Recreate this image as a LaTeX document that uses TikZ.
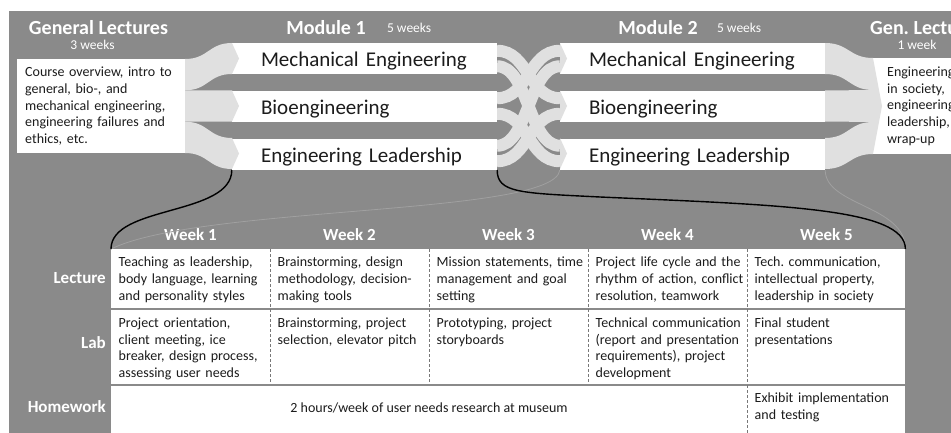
\documentclass[tikz,border=0pt]{standalone}
\usepackage{fontspec}
\setmainfont{Carlito}
\usetikzlibrary{positioning}
\frenchspacing

\definecolor{bggray}{RGB}{138,138,138}
\definecolor{flowgray}{RGB}{224,224,224}
\definecolor{inkgray}{RGB}{28,28,28}
\definecolor{rulegray}{RGB}{120,120,120}
\definecolor{faintgray}{RGB}{160,160,160}

% ribbon from span (#2,#3) at x=#1 to span (#5,#6) at x=#4
\newcommand{\ribbon}[6]{%
  \fill[flowgray] (#1,#2) .. controls ({(#1+#4)/2},#2) and ({(#1+#4)/2},#5) .. (#4,#5)
    -- (#4,#6) .. controls ({(#1+#4)/2},#6) and ({(#1+#4)/2},#3) .. (#1,#3) -- cycle;}
% one strand between the modules
\newcommand{\strand}[2]{%
  \draw[flowgray,line width=12pt] (497,#1) .. controls (528.5,#1) and (528.5,#2) .. (560,#2);}
% arrow notch cut into the left end of a white bar
\newcommand{\notch}[4]{\fill[flowgray] (#1,#2) -- ({#1+#4},{(#2+#3)/2}) -- (#1,#3) -- cycle;}

\begin{document}
\begin{tikzpicture}[x=1pt,y=-1pt,inner sep=0pt,
    head/.style={text=white,font=\fontsize{20}{24}\selectfont\bfseries},
    weeks/.style={text=white,font=\fontsize{13.5}{16}\selectfont},
    weekhd/.style={text=white,font=\fontsize{17}{20}\selectfont\bfseries},
    track/.style={fill=white,minimum height=31pt,text width=207pt,inner xsep=29pt,
      align=left,text height=20pt,text depth=4pt,text=inkgray,
      font=\fontsize{21}{25}\selectfont},
    box/.style={fill=white,anchor=north west,align=left,text=inkgray,
      font=\fontsize{14}{16.7}\selectfont},
    row/.style={fill=white,minimum width=794pt},
    rowlab/.style={text=white,anchor=east,font=\fontsize{17}{20}\selectfont\bfseries},
    cell/.style={anchor=north west,text width=152pt,align=left,text=inkgray,
      font=\fontsize{14}{16.7}\selectfont,execute at begin node=\strut},
    sep/.style={rulegray,line width=0.8pt,dash pattern=on 3pt off 2pt}]

  % page and backdrop
  \useasboundingbox (0,0) rectangle (951,433);
  \clip (0,0) rectangle (951,433);
  \fill[white] (0,0) rectangle (951,433);
  \fill[bggray] (9,11) rectangle (951,433);

  % general lectures fan out into the three tracks
  \ribbon{185}{59}{90.3}{232}{43}{74}
  \ribbon{185}{90.3}{121.7}{232}{90.5}{121.5}
  \ribbon{185}{121.7}{153}{232}{138}{169}

  % students may switch track between the modules
  \strand{50.75}{98.25}
  \strand{66.25}{145.75}
  \strand{98.25}{50.75}
  \strand{113.75}{161.25}
  \strand{145.75}{66.25}
  \strand{161.25}{113.75}

  % tracks join again for the last week
  \ribbon{825}{43}{74}{873}{58}{90}
  \ribbon{825}{90.5}{121.5}{873}{90}{122}
  \ribbon{825}{138}{169}{873}{122}{154}

  % headings
  \node[head] (genl) at (98.5,28) {General Lectures};
  \node[weeks,below=5pt of genl,xshift=-6pt] (genlw) {3 weeks};
  \node[head] (mod1) at (326,28) {Module 1};
  \node[weeks,right=21pt of mod1] (mod1w) {5 weeks};
  \node[head] (mod2) at (658,28) {Module 2};
  \node[weeks,right=19pt of mod2] (mod2w) {5 weeks};
  \node[head,anchor=west] (genr) at (870,28) {Gen. Lectures};
  \node[weeks] (genrw) at (917,45) {1 week};

  % the tracks
  \node[track] (m1me) at (364.5,58.5) {Mechanical Engineering};
  \node[track,below=16.5pt of m1me] (m1bio) {Bioengineering};
  \node[track,below=16.5pt of m1bio] (m1el) {Engineering Leadership};
  \node[track] (m2me) at (692.5,58.5) {Mechanical Engineering};
  \node[track,below=16.5pt of m2me] (m2bio) {Bioengineering};
  \node[track,below=16.5pt of m2bio] (m2el) {Engineering Leadership};
  \foreach \y in {43,90.5,138}{
    \notch{232}{\y}{\y+31}{7}
    \notch{560}{\y}{\y+31}{7}}

  \node[box,text width=152pt,inner xsep=8pt,minimum height=94pt] (lbox) at (17,59)
    {Course overview, intro to\\general, bio-, and\\mechanical engineering,\\engineering failures and\\ethics, etc.};
  \node[box,text width=100pt,inner xsep=14pt,minimum height=96pt] (rbox) at (873,58)
    {Engineering\\in society,\\engineering\\leadership,\\wrap-up};
  \notch{873}{58}{154}{9}

  % weekly plan of the leadership track
  \node[row,minimum height=58.5pt,anchor=north west] (lecrow) at (111,249) {};
  \node[row,minimum height=73.5pt,below=2pt of lecrow] (labrow) {};
  \node[row,minimum height=49pt,below=2pt of labrow] (hwrow) {};
  \node[rowlab,left=5pt of lecrow] (leclab) {Lecture};
  \node[rowlab,left=5pt of labrow,yshift=4pt] (lablab) {Lab};
  \node[rowlab,left=5pt of hwrow,yshift=4pt] (hwlab) {Homework};

  \foreach \i in {1,...,5}
    \node[weekhd] (wk\i) at ({111+159*(\i-0.5)},235) {Week \i};
  \foreach \x in {270,429,588,747}
    \draw[sep] (\x,249) -- (\x,383);
  \draw[sep] (747,385) -- (747,433);

  \node[cell] (lec1) at (118.5,255) {Teaching as leadership,\\body language, learning\\and personality styles};
  \node[cell] (lec2) at (277.5,255) {Brainstorming, design\\methodology, decision-\\making tools};
  \node[cell] (lec3) at (436.5,255) {Mission statements, time\\management and goal\\setting};
  \node[cell] (lec4) at (595.5,255) {Project life cycle and the\\rhythm of action, conflict\\resolution, teamwork};
  \node[cell] (lec5) at (754.5,255) {Tech. communication,\\intellectual property,\\leadership in society};

  \node[cell] (lab1) at (118.5,315.5) {Project orientation,\\client meeting, ice\\breaker, design process,\\assessing user needs};
  \node[cell] (lab2) at (277.5,315.5) {Brainstorming, project\\selection, elevator pitch};
  \node[cell] (lab3) at (436.5,315.5) {Prototyping, project\\storyboards};
  \node[cell] (lab4) at (595.5,315.5) {Technical communication\\(report and presentation\\requirements), project\\development};
  \node[cell] (lab5) at (754.5,315.5) {Final student\\presentations};

  \node[text=inkgray,font=\fontsize{14}{16.7}\selectfont] (hw) at (429,408)
    {2 hours/week of user needs research at museum};
  \node[cell] (hw5) at (754.5,391) {Exhibit implementation\\and testing};

  % brace from the leadership track down to its plan
  \coordinate (bend) at (600,197);
  \draw[faintgray,line width=0.8pt] (m2el.south west) .. controls +(-5,46) and +(90,-44) .. (lecrow.north west);
  \draw[faintgray,line width=0.8pt] (m2el.south east) .. controls +(0,36) and +(0,-44) .. (lecrow.north east);
  \draw[line width=1.4pt] (m1el.south west) .. controls +(0,46) and +(0,-44) .. (lecrow.north west);
  \draw[line width=1.4pt] (m1el.south east) .. controls +(0,23) and +(-80,-4) .. (bend)
    .. controls +(180,8) and +(0,-41) .. (lecrow.north east);
\end{tikzpicture}
\end{document}
